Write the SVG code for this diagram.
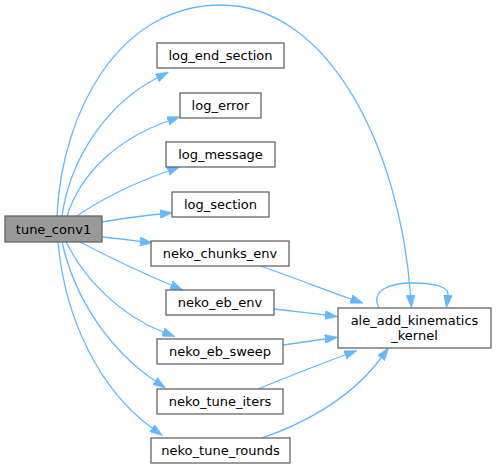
<svg xmlns="http://www.w3.org/2000/svg" width="496" height="469" viewBox="0 0 496 469">
<style>
  .node rect { fill: #ffffff; stroke: #666666; stroke-width: 1.3; }
  .node.root rect { fill: #999999; }
  .node text { font-family: "DejaVu Sans", sans-serif; font-size: 13px; fill: #000000; text-anchor: middle; }
  .edge { fill: none; stroke: #63b8ff; stroke-width: 1.3; marker-end: url(#arrow); }
</style>
<defs>
  <marker id="arrow" viewBox="0 0 13 9" refX="0" refY="4.5" markerWidth="13" markerHeight="9" markerUnits="userSpaceOnUse" orient="auto">
    <path d="M0,0 L13,4.5 L0,9 z" fill="#63b8ff" stroke="#63b8ff" stroke-width="0.5"/>
  </marker>
</defs>
<rect width="496" height="469" fill="#ffffff"/>
<g id="edges">
  <path class="edge" d="M57,216 C62,110 120,5 221,5 C330,5 400,150 410.5,295"/>
  <path class="edge" d="M62,216 C70,160 105,105 157,78"/>
  <path class="edge" d="M67,216 C80,175 115,140 168,121"/>
  <path class="edge" d="M77,216 C100,200 135,183 168,171"/>
  <path class="edge" d="M102,222 C120,219 140,216 160,214"/>
  <path class="edge" d="M102,237 C115,238 128,240 140,241.5"/>
  <path class="edge" d="M80,242 C105,255 140,272 171,285"/>
  <path class="edge" d="M66,242 C85,280 120,315 163,332"/>
  <path class="edge" d="M62,242 C75,300 110,350 155,381"/>
  <path class="edge" d="M58,242 C65,320 100,390 152,428"/>
  <path class="edge" d="M260,266 C290,276 320,288 351,299"/>
  <path class="edge" d="M274,309 C290,311 310,313 325,315"/>
  <path class="edge" d="M283,345 C297,343 311,341 325,339"/>
  <path class="edge" d="M258,389 C285,378 315,366 345,355"/>
  <path class="edge" d="M262,438 C300,425 350,400 381,358"/>
  <path class="edge" d="M379,308 C370,290 390,283 413,283 C435,283 449,287 448,295"/>
</g>
<g id="node_tune_conv1" class="node root">
  <rect x="5" y="216" width="97" height="26"/>
  <text x="53.5" y="233.5">tune_conv1</text>
</g>
<g id="node_log_end_section" class="node">
  <rect x="157" y="43" width="127" height="25"/>
  <text x="220.5" y="59.5">log_end_section</text>
</g>
<g id="node_log_error" class="node">
  <rect x="180" y="93" width="81" height="25"/>
  <text x="220.5" y="109.5">log_error</text>
</g>
<g id="node_log_message" class="node">
  <rect x="166" y="142" width="109" height="25"/>
  <text x="220.5" y="158.5">log_message</text>
</g>
<g id="node_log_section" class="node">
  <rect x="172" y="192" width="97" height="25"/>
  <text x="220.5" y="208.5">log_section</text>
</g>
<g id="node_neko_chunks_env" class="node">
  <rect x="151" y="241" width="138" height="25"/>
  <text x="220" y="257.5">neko_chunks_env</text>
</g>
<g id="node_neko_eb_env" class="node">
  <rect x="166" y="290" width="108" height="25"/>
  <text x="220" y="306.5">neko_eb_env</text>
</g>
<g id="node_neko_eb_sweep" class="node">
  <rect x="157" y="339" width="126" height="25"/>
  <text x="220" y="355.5">neko_eb_sweep</text>
</g>
<g id="node_neko_tune_iters" class="node">
  <rect x="157" y="389" width="126" height="25"/>
  <text x="220" y="405.5">neko_tune_iters</text>
</g>
<g id="node_neko_tune_rounds" class="node">
  <rect x="151" y="438" width="139" height="25"/>
  <text x="220.5" y="454.5">neko_tune_rounds</text>
</g>
<g id="node_ale_add_kinematics_kernel" class="node">
  <rect x="338" y="308" width="153" height="40"/>
  <text x="414.5" y="324.5">ale_add_kinematics</text>
  <text x="414.5" y="339.5">_kernel</text>
</g>
</svg>
